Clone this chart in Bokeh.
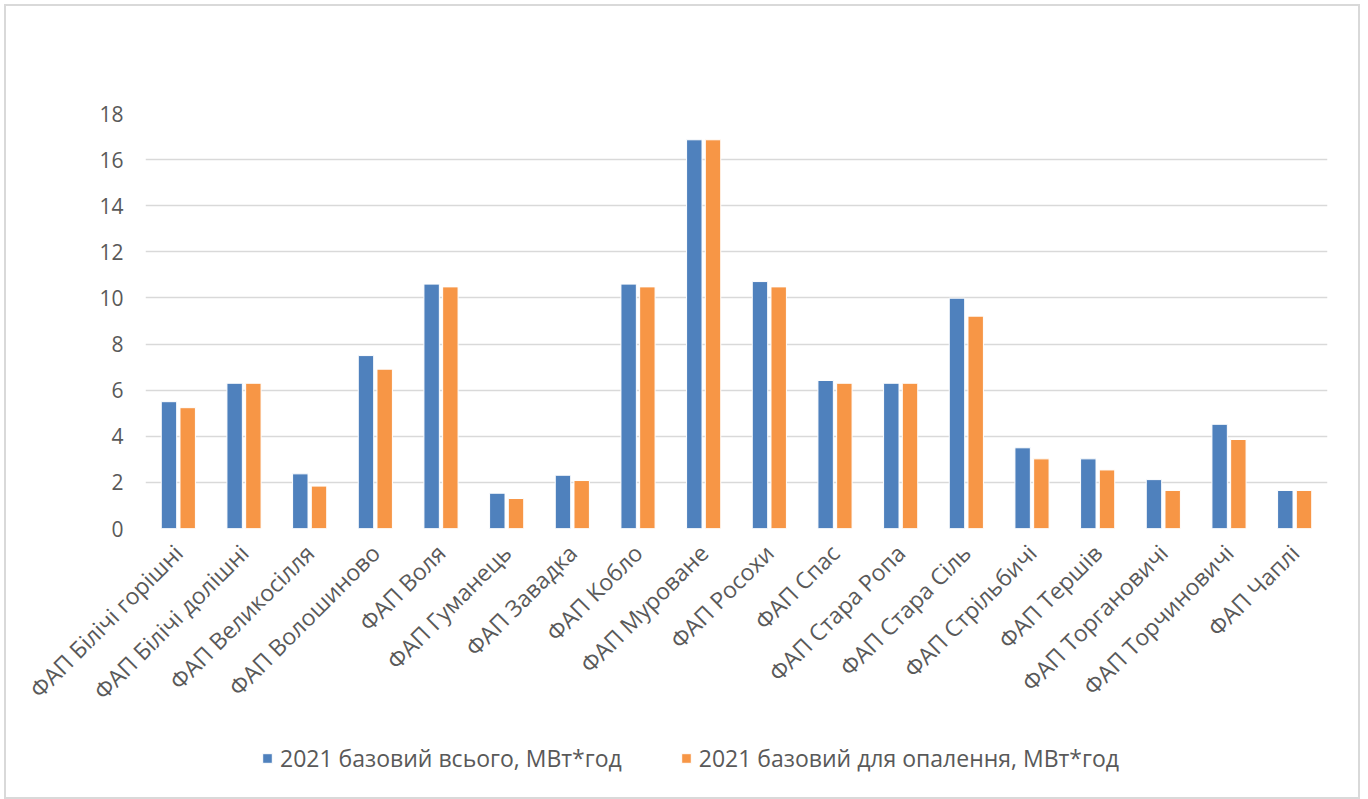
import math
from bokeh.plotting import figure
from bokeh.layouts import column
from bokeh.models import ColumnDataSource, FactorRange, Range1d, FixedTicker, Legend, LegendItem
from bokeh.transform import dodge
from bokeh.embed import file_html
from bokeh.resources import INLINE

categories = ["ФАП Білічі горішні", "ФАП Білічі долішні", "ФАП Великосілля", "ФАП Волошиново",
              "ФАП Воля", "ФАП Гуманець", "ФАП Завадка", "ФАП Кобло", "ФАП Муроване",
              "ФАП Росохи", "ФАП Спас", "ФАП Стара Ропа", "ФАП Стара Сіль", "ФАП Стрільбичі",
              "ФАП Тершів", "ФАП Торгановичі", "ФАП Торчиновичі", "ФАП Чаплі"]
total = [5.5, 6.3, 2.37, 7.5, 10.6, 1.53, 2.31, 10.6, 16.86, 10.71, 6.42, 6.3, 9.99, 3.5, 3.02, 2.12, 4.52, 1.65]
heating = [5.24, 6.3, 1.84, 6.91, 10.48, 1.3, 2.08, 10.48, 16.86, 10.48, 6.3, 6.3, 9.21, 3.02, 2.54, 1.65, 3.86, 1.65]
series_names = ["2021 базовий всього, МВт*год", "2021 базовий для опалення, МВт*год"]
y_ticks = [0, 2, 4, 6, 8, 10, 12, 14, 16, 18]

BLUE = "#4F81BD"
ORANGE = "#F79646"
TEXT = "#595959"
FONT = "Open Sans"

src = ColumnDataSource(data=dict(cat=categories, total=total, heating=heating))

p = figure(x_range=FactorRange(*categories), y_range=Range1d(0, 18),
           width=1352, height=726, output_backend="svg", toolbar_location=None,
           min_border_left=139, min_border_right=31, min_border_top=107, min_border_bottom=204)
p.x_range.range_padding = 0
p.outline_line_color = None

r1 = p.vbar(x=dodge("cat", -0.1425, range=p.x_range), top="total", width=0.235, source=src,
            fill_color=BLUE, line_color="white", line_width=1)
r2 = p.vbar(x=dodge("cat", 0.1425, range=p.x_range), top="heating", width=0.235, source=src,
            fill_color=ORANGE, line_color="white", line_width=1)

p.xgrid.grid_line_color = None
p.ygrid.grid_line_color = "#d9d9d9"
p.ygrid.grid_line_width = 1.5
p.yaxis.ticker = FixedTicker(ticks=y_ticks)

for ax in (p.xaxis[0], p.yaxis[0]):
    ax.axis_line_color = None
    ax.major_tick_line_color = None
    ax.minor_tick_line_color = None
    ax.major_label_text_color = TEXT
    ax.major_label_text_font = FONT

p.yaxis.major_label_text_font_size = "21px"
p.xaxis.major_label_text_font_size = "23px"
p.yaxis.major_label_standoff = 16
p.xaxis.major_label_orientation = math.pi / 4
p.xaxis.major_label_standoff = 14

# legend strip below the chart (its proxy bars lie far outside the strip's visible range)
lp = figure(x_range=Range1d(100, 101), y_range=Range1d(100, 101), width=1352, height=65,
            output_backend="svg", toolbar_location=None,
            x_axis_location=None, y_axis_location=None,
            min_border=0, outline_line_color=None)
lp.grid.visible = False
l1 = lp.vbar(x="total", top="total", width=0.1, source=src, fill_color=BLUE, line_color="white")
l2 = lp.vbar(x="heating", top="heating", width=0.1, source=src, fill_color=ORANGE, line_color="white")

legend = Legend(items=[LegendItem(label=series_names[0], renderers=[l1]),
                       LegendItem(label=series_names[1], renderers=[l2])],
                location=(116, 23), orientation="horizontal",
                padding=0, margin=0, spacing=58, label_standoff=7,
                glyph_width=12, glyph_height=12,
                label_text_font=FONT, label_text_font_size="23px", label_text_color=TEXT,
                border_line_color=None, background_fill_alpha=0)
lp.add_layout(legend, "center")

layout = column(p, lp, spacing=0)
layout.styles = {"border": "2px solid #d9d9d9"}
layout.margin = (4, 0, 0, 4)

open("out.html", "w").write(file_html(layout, INLINE))
